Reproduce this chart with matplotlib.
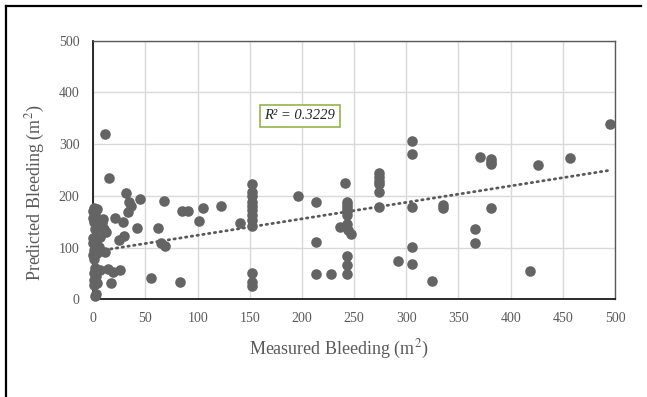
import matplotlib
matplotlib.use("Agg")
import matplotlib.pyplot as plt
from matplotlib.lines import Line2D
import numpy as np

plt.rcParams["font.family"] = "Liberation Serif"
plt.rcParams["mathtext.fontset"] = "stix"

# measured vs predicted bleeding (m2)
measured = [
    1, 4, 0, 2, 0, 1, 9, 8, 10, 2, 6, 0, 3, 0, 5, 1, 4, 0, 1, 11, 12, 2, 6, 1, 3, 1, 4, 1, 3, 2,
    11, 15, 31, 34, 36, 45, 33, 21, 28, 25, 29, 42, 62, 68, 85, 91, 105, 122, 101, 141,
    65, 69, 55, 83, 26, 14, 19, 17,
    152, 152, 152, 152, 152, 152, 152, 152, 152, 152, 152, 152,
    196, 213, 241, 243, 243, 243, 243, 243, 236, 243, 244, 247, 213, 213, 228, 243, 243, 243,
    274, 274, 274, 274, 274, 274,
    305, 305, 305, 305, 305, 292, 325, 335, 335, 366, 366, 371, 381, 381, 381, 381,
    426, 457, 495, 419,
]
predicted = [
    176, 175, 170, 164, 158, 150, 155, 148, 135, 135, 120, 118, 110, 108, 102, 95, 90, 85, 77, 92, 131, 60, 57, 50, 45, 38, 32, 28, 10, 7,
    320, 234, 205, 189, 180, 193, 169, 158, 149, 115, 122, 137, 138, 191, 171, 170, 176, 180, 151, 148,
    108, 103, 42, 33, 57, 58, 53, 31,
    223, 208, 200, 189, 180, 172, 163, 153, 141, 50, 34, 25,
    199, 189, 225, 189, 183, 177, 170, 163, 140, 146, 134, 126, 111, 48, 48, 84, 67, 49,
    244, 236, 229, 222, 208, 179,
    306, 281, 179, 101, 68, 74, 36, 182, 176, 135, 108, 276, 271, 266, 261, 176,
    260, 274, 338, 55,
]

# linear trendline shown on the chart
trend_slope = 0.318
trend_intercept = 92
r2_label = "R² = 0.3229"

x_ticks = [0, 50, 100, 150, 200, 250, 300, 350, 400, 450, 500]
y_ticks = [0, 100, 200, 300, 400, 500]

fig = plt.figure(figsize=(6.47, 3.97), dpi=100)
ax = fig.add_axes([0.1442, 0.2461, 0.8063, 0.6514])

ax.scatter(measured, predicted, s=58, color="#646464", zorder=3, linewidths=0, clip_on=False)

tx = np.array([min(measured), max(measured)])
ax.plot(tx, trend_slope * tx + trend_intercept, color="#595959", lw=2,
        linestyle=(0, (0.5, 1.6)), dash_capstyle="round", zorder=2)

ax.set_xlim(0, 500)
ax.set_ylim(0, 500)
ax.set_xticks(x_ticks)
ax.set_yticks(y_ticks)
ax.grid(True, color="#d9d9d9", lw=1)
ax.set_axisbelow(True)
ax.tick_params(length=0, labelsize=10, colors="#595959")
ax.tick_params(axis="x", pad=9)
ax.tick_params(axis="y", pad=10)

for s in ["top", "right"]:
    ax.spines[s].set_color("#595959")
    ax.spines[s].set_linewidth(1)
for s in ["left", "bottom"]:
    ax.spines[s].set_color("#1a1a1a")
    ax.spines[s].set_linewidth(1.3)

fig.text(0.524, 0.121, "Measured Bleeding (m$^{2}$)", ha="center", va="center",
         fontsize=13, color="#595959")
fig.text(0.054, 0.514, "Predicted Bleeding (m$^{2}$)", ha="center", va="center",
         rotation=90, fontsize=13, color="#595959")

ax.text(198, 355, r2_label, ha="center", va="center", fontsize=10.5, style="italic",
        color="#262626",
        bbox=dict(boxstyle="square,pad=0.3", facecolor="white", edgecolor="#9bbb59", lw=1.3))

# outer chart-area frame
fig.add_artist(Line2D([0.0093, 0.99], [0.985, 0.985], transform=fig.transFigure, color="black", lw=1.6))
fig.add_artist(Line2D([0.0093, 0.0093], [0.0, 0.985], transform=fig.transFigure, color="black", lw=1.6))

fig.savefig("out.png", dpi=100)
